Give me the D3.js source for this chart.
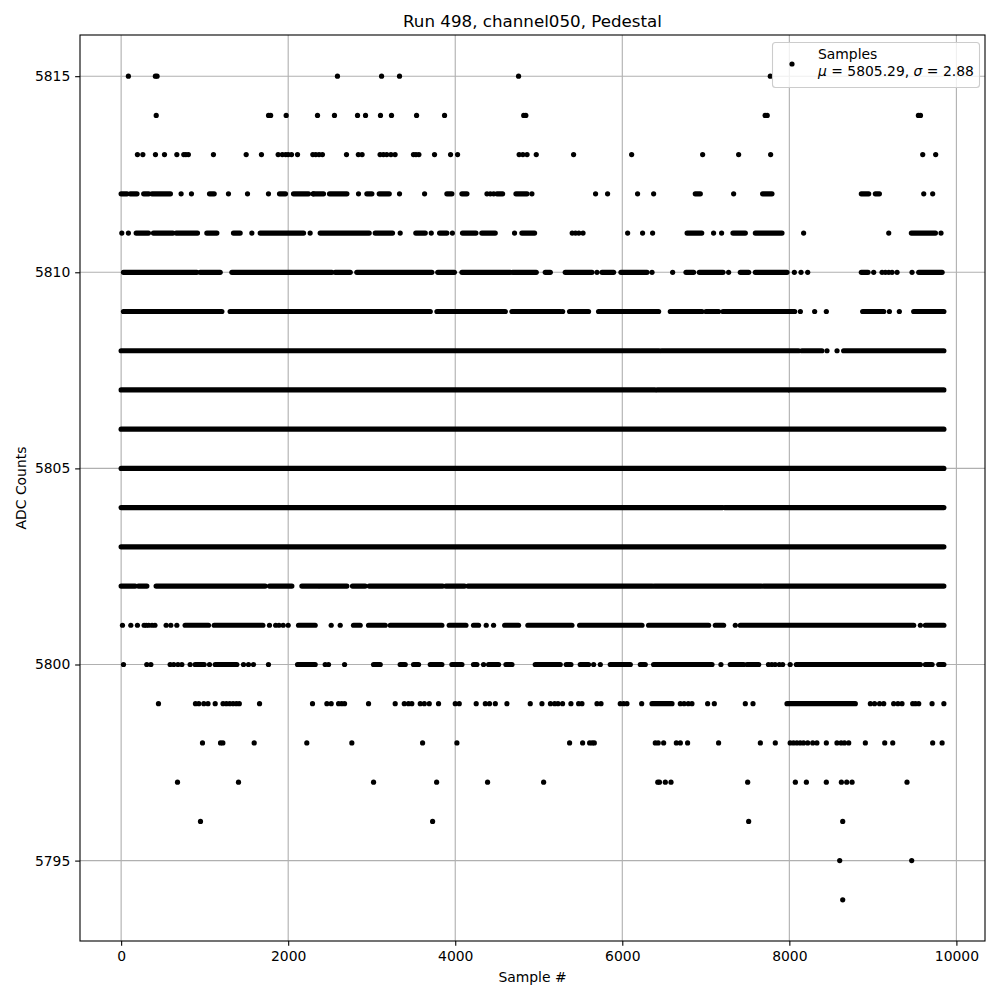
<!DOCTYPE html>
<html><head><meta charset="utf-8">
<script src="https://cdn.jsdelivr.net/npm/d3@7"></script>
<style>body{margin:0;background:#fff}svg{font-family:"DejaVu Sans",sans-serif}</style>
</head><body><svg id="c" width="1000" height="1000"></svg>
<script>
// ADC levels and the sample numbers seen at each level.
// A number is one sample; a [start, end] pair is a run of consecutive samples.
const adcLevels = [5794,5795,5796,5797,5798,5799,5800,5801,5802,5803,5804,5805,5806,5807,5808,5809,5810,5811,5812,5813,5814,5815];
const lvl5815 = [87,410,430,2590,3118,3333,4758,7772];
const lvl5814 = [420,1765,1790,1976,2351,2554,2830,2926,3105,3237,3537,3872,4820,4845,7710,7735,9545,9570];
const lvl5813 = [195,260,411,519,667,750,775,805,1105,1497,1680,1880,1930,1970,2000,2040,2112,2295,2330,2370,2410,2698,2840,2885,3100,3140,3180,3230,3280,3500,3530,3565,3752,3944,4028,4765,4810,4860,4970,5417,6112,6962,7393,7776,9597,9752];
const lvl5812 = [[0,70],[110,190],[270,330],[370,590],718,842,[1058,1114],1285,1513,1764,[1896,1968],[2064,2243],2299,[2303,2423],[2495,2703],2842,[2942,3002],[3090,3210],3333,3633,[3900,3960],[4080,4140],4380,4420,4460,[4500,4567],[4727,4859],4918,5680,5824,6183,6375,[6874,6934],7333,[7680,7792],[8862,8950],[9030,9078],9609,9716];
const lvl5811 = [8,87,[180,327],[387,619],[659,914],[1026,1146],[1345,1425],1565,[1665,2184],2263,[2383,2970],[3042,3249],3341,[3528,3641],3713,[3813,3900],3966,[4087,4248],[4318,4479],4710,[4798,4950],5400,5440,5480,5530,6064,6243,6363,[6776,6951],7093,7189,[7325,7473],[7593,7912],8171,9190,[9461,9749],9816];
const lvl5810 = [[28,906],[946,1186],[1326,2523],[2563,2743],[2822,3720],[3791,3990],[4080,4659],[4687,4970],[5078,5138],[5317,5637],5697,[5757,5896],[5984,6296],6356,6603,[6763,6854],[6922,7206],7273,[7413,7513],[7593,7972],8060,8140,8220,[8862,8942],9010,9110,9150,9190,9230,9290,9469,[9549,9829]];
const lvl5809 = [[28,1206],[1305,3701],[3781,4599],[4679,5257],5286,[5369,5596],[5716,6435],[6575,6954],[7002,7153],[7206,8064],8132,8303,8443,[8878,9130],9198,9317,[9489,9850]];
const lvl5808 = [[0,6440],[6470,8110],[8150,8390],8451,8571,[8650,9850]];
const lvl5807 = [[0,6390],[6420,7980],[8005,9850]];
const lvl5806 = [[0,9850]];
const lvl5805 = [[0,9850]];
const lvl5804 = [[0,7200],[7225,9850]];
const lvl5803 = [[0,9850]];
const lvl5802 = [[0,168],[207,308],[419,1725],[1776,2044],[2164,2360],[2380,2703],[2770,2922],[2970,3848],[3887,4111],[4152,6360],[6385,7665],[7692,9850]];
const lvl5801 = [16,116,195,275,300,330,370,405,539,595,667,[766,1046],[1114,1697],1776,1850,1890,1940,2000,[2124,2323],2515,2623,[2782,2862],[2962,3162],[3222,3840],[3928,4128],[4219,4279],4371,4459,[4592,4758],[4870,5397],[5489,6236],[6315,7034],[7114,7213],7353,[7413,9489],9569,[9629,9850]];
const lvl5800 = [28,307,356,587,630,680,727,826,[886,994],1058,[1126,1385],1465,1525,1585,1764,[2112,2323],2443,2483,2675,[3022,3102],[3341,3401],[3501,3561],[3701,3840],[3960,4080],[4219,4259],4339,[4399,4519],[4607,4679],[4958,5257],[5329,5385],[5497,5596],5657,5737,[5856,6096],[6216,6275],[6375,7074],7181,[7293,7453],[7493,7633],7750,7790,7830,7880,7920,8010,[8084,9569],[9629,9709],[9789,9850]];
const lvl5799 = [447,890,930,990,1040,1126,1220,1260,1300,1340,1380,1415,1657,2291,2463,2515,2603,2640,2675,2962,3281,3390,3440,3480,3581,3630,3689,3800,4000,4048,4251,4360,4410,4480,4619,4898,5038,5140,5190,5230,5285,5385,5477,5517,5697,5745,5976,6016,6056,6232,[6356,6595],6695,6740,6790,6834,7022,7102,7473,7565,[7972,8790],8970,9020,9080,9130,9249,9300,9349,9477,9510,9549,9709,9850];
const lvl5798 = [974,1190,1218,1593,2223,2762,3609,4020,5369,5525,5609,5640,5665,6395,6430,6495,6647,6695,6782,7153,7653,7832,8010,8050,8090,8130,8170,8220,8280,8330,8443,8570,8620,8660,8711,8910,9142,9238,9716,9829];
const lvl5797 = [675,1405,3022,3777,4387,5058,6425,6445,6515,6583,7501,8072,8204,8443,8623,8687,8751,9409];
const lvl5796 = [950,3729,7513,8639];
const lvl5795 = [8603,9465];
const lvl5794 = [8639];

const xTicks = [0,2000,4000,6000,8000,10000];
const yTicks = [5795,5800,5805,5810,5815];
const titleText = "Run 498, channel050, Pedestal";
const xLabel = "Sample #";
const yLabel = "ADC Counts";
const legendLabel = "Samples";
const meanValue = 5805.29, sigmaValue = 2.88;

const byLevel = [lvl5794,lvl5795,lvl5796,lvl5797,lvl5798,lvl5799,lvl5800,lvl5801,lvl5802,lvl5803,lvl5804,lvl5805,lvl5806,lvl5807,lvl5808,lvl5809,lvl5810,lvl5811,lvl5812,lvl5813,lvl5814,lvl5815];
const points = [], runs = [];
adcLevels.forEach((lv,i)=>byLevel[i].forEach(e=>{
  if (Array.isArray(e)) runs.push({y:lv,x0:e[0],x1:e[1]}); else points.push({y:lv,x:e});
}));

const L=80,R=985,T=35,B=941;
const xMin=0,xMax=9850,yMin=d3.min(adcLevels),yMax=d3.max(adcLevels);
const xm=(xMax-xMin)*0.05, ym=(yMax-yMin)*0.05;
const x=d3.scaleLinear().domain([xMin-xm,xMax+xm]).range([L,R]);
const y=d3.scaleLinear().domain([yMin-ym,yMax+ym]).range([B,T]);

const svg=d3.select("#c");
const fs=13.9;
// grid
const g=svg.append("g");
g.selectAll(".gx").data(xTicks).join("line").attr("x1",d=>x(d)).attr("x2",d=>x(d)).attr("y1",T).attr("y2",B).attr("stroke","#b0b0b0").attr("stroke-width",0.8*1.389);
g.selectAll(".gy").data(yTicks).join("line").attr("y1",d=>y(d)).attr("y2",d=>y(d)).attr("x1",L).attr("x2",R).attr("stroke","#b0b0b0").attr("stroke-width",0.8*1.389);

const clip=svg.append("clipPath").attr("id","clp").append("rect").attr("x",L).attr("y",T).attr("width",R-L).attr("height",B-T);
const dataG=svg.append("g").attr("clip-path","url(#clp)");
const rr=2.6;
dataG.selectAll(".run").data(runs).join("line").attr("x1",d=>x(d.x0)).attr("x2",d=>x(d.x1)).attr("y1",d=>y(d.y)).attr("y2",d=>y(d.y)).attr("stroke","#000").attr("stroke-width",rr*2).attr("stroke-linecap","round");
dataG.selectAll(".pt").data(points).join("circle").attr("cx",d=>x(d.x)).attr("cy",d=>y(d.y)).attr("r",rr).attr("fill","#000");

// axes
const xa=svg.append("g").attr("transform",`translate(0,${B})`).call(d3.axisBottom(x).tickValues(xTicks).tickSize(4.86).tickPadding(4.86).tickFormat(d3.format("d")));
const ya=svg.append("g").attr("transform",`translate(${L},0)`).call(d3.axisLeft(y).tickValues(yTicks).tickSize(4.86).tickPadding(4.86).tickFormat(d3.format("d")));
[xa,ya].forEach(a=>{a.select(".domain").remove();a.selectAll("text").attr("font-size",fs).attr("font-family","DejaVu Sans").attr("fill","#000");a.selectAll("line").attr("stroke","#000").attr("stroke-width",1.1);});
svg.append("rect").attr("x",L).attr("y",T).attr("width",R-L).attr("height",B-T).attr("fill","none").attr("stroke","#000").attr("stroke-width",1.1);

svg.append("text").attr("x",(L+R)/2).attr("y",T-8).attr("text-anchor","middle").attr("font-size",16.7).text(titleText);
svg.append("text").attr("x",(L+R)/2).attr("y",982).attr("text-anchor","middle").attr("font-size",fs).text(xLabel);
svg.append("text").attr("transform",`translate(26,${(T+B)/2}) rotate(-90)`).attr("text-anchor","middle").attr("font-size",fs).text(yLabel);

// legend
const lg=svg.append("g");
lg.append("rect").attr("x",772.5).attr("y",42.5).attr("width",207).attr("height",45).attr("rx",3).attr("fill","#fff").attr("fill-opacity",0.8).attr("stroke","#cccccc").attr("stroke-width",1.1);
lg.append("circle").attr("cx",792).attr("cy",64).attr("r",rr).attr("fill","#000");
lg.append("text").attr("x",818).attr("y",59).attr("font-size",fs).text(legendLabel);
const t2=lg.append("text").attr("x",818).attr("y",76).attr("font-size",fs);
t2.append("tspan").attr("font-style","italic").text("μ");
t2.append("tspan").text(` = ${meanValue.toFixed(2)}, `);
t2.append("tspan").attr("font-style","italic").text("σ");
t2.append("tspan").text(` = ${sigmaValue.toFixed(2)}`);
</script></body></html>
